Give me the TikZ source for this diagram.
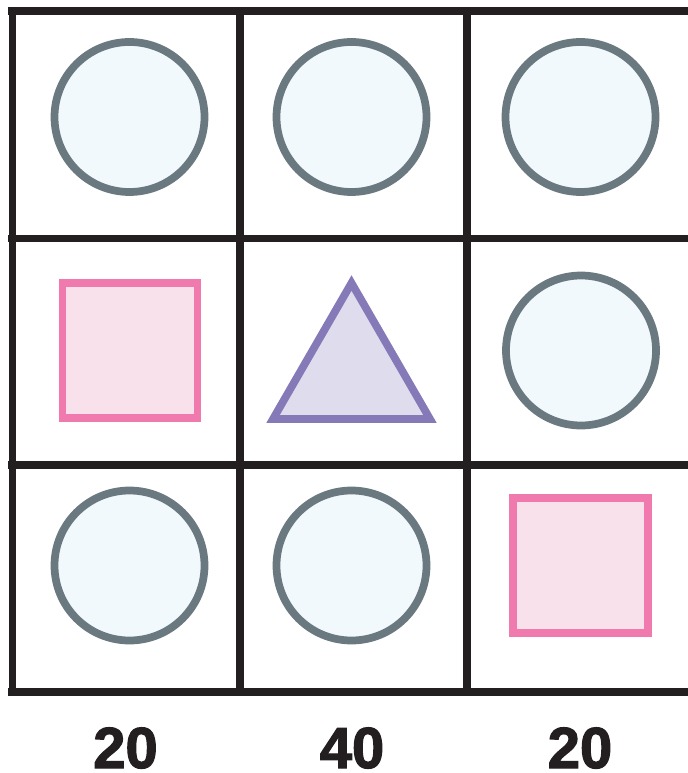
\documentclass[tikz,border=0pt]{standalone}
\usepackage{fontspec}
\setmainfont{Liberation Sans}[BoldFeatures={FakeBold=2}]
\usepackage{xcolor}
\usetikzlibrary{positioning}
\definecolor{cGrid}{RGB}{35,31,32}
\definecolor{cCircEdge}{RGB}{106,120,128}
\definecolor{cCircFill}{RGB}{241,249,253}
\definecolor{cSqEdge}{RGB}{240,122,174}
\definecolor{cSqFill}{RGB}{249,225,236}
\definecolor{cTriEdge}{RGB}{133,121,184}
\definecolor{cTriFill}{RGB}{223,220,238}

\begin{document}
\begin{tikzpicture}[x=0.02cm,y=-0.02cm,
  gridline/.style={cGrid,line width=4.55pt},
  circ/.style={draw=cCircEdge,fill=cCircFill,line width=4.4pt},
  sq/.style={draw=cSqEdge,fill=cSqFill,line width=4.4pt},
  tri/.style={draw=cTriEdge,fill=cTriFill,line width=4.4pt},
  count/.style={font=\fontsize{33}{40}\selectfont\bfseries,text=cGrid,inner sep=0pt,anchor=base}]
  \useasboundingbox (0,0) rectangle (688,773);
  % cells
  \foreach \x in {12.5,240,467,694}
    \draw[gridline] (\x,11.5) -- (\x,691.5);
  \foreach \y in {11.5,238.5,465,691.5}
    \draw[gridline] (8,\y) -- (700,\y);
  % shapes
  \draw[circ] (129.5,117) circle (75);
  \draw[circ] (351.5,117) circle (75);
  \draw[circ] (580.5,117) circle (75);
  \draw[sq] (62.5,283) rectangle (197.5,418);
  \draw[tri] (351.5,283) -- (430,419) -- (273,419) -- cycle;
  \draw[circ] (581,350.5) circle (75);
  \draw[circ] (129.5,565.5) circle (75);
  \draw[circ] (351.5,565.5) circle (75);
  \draw[sq] (513,498) rectangle (648,633);
  % column counts
  \node[count] (c1) at (125.5,768) {20};
  \node[count] (c2) at (352,768) {40};
  \node[count] (c3) at (580,768) {20};
\end{tikzpicture}
\end{document}
